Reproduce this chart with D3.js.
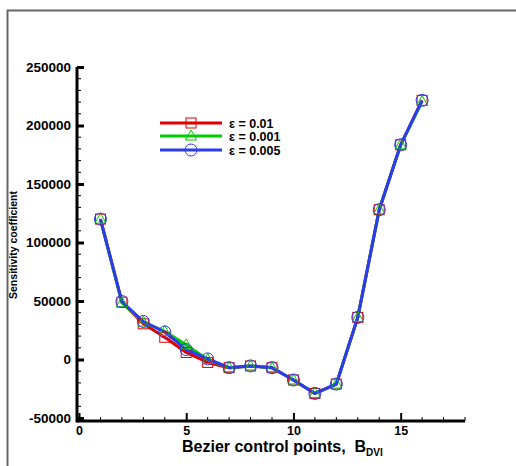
<!DOCTYPE html>
<html lang="en">
<head>
    <meta charset="utf-8">
    <script src="https://d3js.org/d3.v7.min.js"></script>
</head>
<style>
    body { margin: 0; background: #fff; }
    text { font-family: "Liberation Sans", Arial, sans-serif; font-weight: bold; }
</style>
<body>
<script>
    const w = 516
    const h = 466

    // data
    const xs = [1, 2, 3, 4, 5, 6, 7, 8, 9, 10, 11, 12, 13, 14, 15, 16]
    const eps001 = [120000, 49000, 30500, 19000, 6000, -2500, -7000, -5500, -7000, -17500, -29000, -21000, 36000, 128000, 183500, 221500]
    const eps0001 = [120000, 48500, 32000, 24000, 12500, 0, -7000, -5500, -7000, -17500, -29000, -21000, 36000, 128000, 183500, 220500]
    const eps0005 = [120000, 49500, 32500, 23500, 8500, 500, -7000, -5500, -7000, -17500, -29000, -21000, 36000, 128000, 183500, 221500]
    const seriesNames = ["\u03b5 = 0.01", "\u03b5 = 0.001", "\u03b5 = 0.005"]
    const xTicks = [0, 5, 10, 15]
    const yTicks = [-50000, 0, 50000, 100000, 150000, 200000, 250000]

    const colors = ["#e00000", "#00cc00", "#2b3bf0"]
    const shapes = ["square", "triangle", "circle"]
    const series = [eps001, eps0001, eps0005]

    const svg = d3.select("body").append("svg")
        .attr("width", w)
        .attr("height", h)

    // frame (left and top edges only)
    svg.append("path")
        .attr("d", "M7.5," + h + "V10.5H" + w)
        .attr("fill", "none")
        .attr("stroke", "#666")
        .attr("stroke-width", 2)

    const x = d3.scaleLinear().domain([0, 18]).range([79, 465])
    const y = d3.scaleLinear().domain([-50000, 250000]).range([418, 67])

    const axisX = 77
    const axisY = 421
    const fmt = d => String(d)

    // minor ticks
    svg.append("g")
        .selectAll("line")
        .data(d3.range(1, 19).filter(d => d % 5 != 0))
        .enter().append("line")
        .attr("x1", d => x(d)).attr("x2", d => x(d))
        .attr("y1", axisY).attr("y2", axisY - 4)
        .attr("stroke", "#000").attr("stroke-width", 1)

    svg.append("g")
        .selectAll("line")
        .data(d3.range(-50000, 250001, 10000).filter(d => d % 50000 != 0))
        .enter().append("line")
        .attr("x1", axisX).attr("x2", axisX + 4)
        .attr("y1", d => y(d)).attr("y2", d => y(d))
        .attr("stroke", "#000").attr("stroke-width", 1)

    // x axis
    const gx = svg.append("g")
        .attr("transform", "translate(0," + axisY + ")")
        .call(d3.axisBottom(x).tickValues(xTicks).tickSizeInner(-8).tickSizeOuter(0).tickPadding(5).tickFormat(fmt))
    gx.select(".domain").attr("d", "M" + axisX + ",0H465").attr("stroke-width", 3)
    gx.selectAll(".tick line").attr("stroke-width", 2)
    gx.selectAll(".tick text").attr("font-size", 12.5).attr("fill", "#000")
        .attr("font-family", "Liberation Sans, Arial, sans-serif")

    // y axis
    const gy = svg.append("g")
        .attr("transform", "translate(" + axisX + ",0)")
        .call(d3.axisLeft(y).tickValues(yTicks).tickSizeInner(-7).tickSizeOuter(0).tickPadding(6).tickFormat(fmt))
    gy.select(".domain").attr("d", "M0,67V" + (axisY + 1.5)).attr("stroke-width", 3)
    gy.selectAll(".tick line").attr("stroke-width", 3)
    gy.selectAll(".tick text").attr("font-size", 13.5).attr("fill", "#000")
        .attr("font-family", "Liberation Sans, Arial, sans-serif")

    // axis titles
    svg.append("text")
        .attr("transform", "translate(17,245) rotate(-90)")
        .attr("text-anchor", "middle")
        .attr("font-size", 10.5)
        .text("Sensitivity coefficient")

    const xt = svg.append("text")
        .attr("x", 182)
        .attr("y", 452)
        .attr("font-size", 16)
        .style("white-space", "pre")
        .text("Bezier control points,  B")
    xt.append("tspan")
        .attr("font-size", 10)
        .attr("dy", 4)
        .text("DVI")

    function marker(g, shape, color, cx, cy) {
        if (shape == "square") {
            g.append("rect")
                .attr("x", cx - 5).attr("y", cy - 5)
                .attr("width", 10).attr("height", 10)
                .attr("fill", "none").attr("stroke", color).attr("stroke-width", 1)
        } else if (shape == "triangle") {
            g.append("path")
                .attr("d", "M" + cx + "," + (cy - 6) + "L" + (cx + 5.5) + "," + (cy + 4) + "L" + (cx - 5.5) + "," + (cy + 4) + "Z")
                .attr("fill", "none").attr("stroke", color).attr("stroke-width", 1)
        } else {
            g.append("circle")
                .attr("cx", cx).attr("cy", cy).attr("r", 6)
                .attr("fill", "none").attr("stroke", color).attr("stroke-width", 1)
        }
    }

    const line = d3.line()
        .x((d, i) => x(xs[i]))
        .y(d => y(d))

    series.forEach((s, k) => {
        svg.append("path")
            .datum(s)
            .attr("d", line)
            .attr("fill", "none")
            .attr("stroke", colors[k])
            .attr("stroke-width", 3)
            .attr("stroke-linejoin", "round")
    })

    series.forEach((s, k) => {
        const g = svg.append("g")
        s.forEach((v, i) => marker(g, shapes[k], colors[k], x(xs[i]), y(v)))
    })

    // legend
    const legY = [123, 136, 150]
    seriesNames.forEach((name, k) => {
        const g = svg.append("g")
        g.append("line")
            .attr("x1", 160).attr("x2", 222)
            .attr("y1", legY[k]).attr("y2", legY[k])
            .attr("stroke", colors[k]).attr("stroke-width", 3)
        marker(g, shapes[k], colors[k], 191, legY[k])
        g.append("text")
            .attr("x", 229)
            .attr("y", legY[k] + 4.5)
            .attr("font-size", 12.5)
            .text(name)
    })
</script>
</body>
</html>
